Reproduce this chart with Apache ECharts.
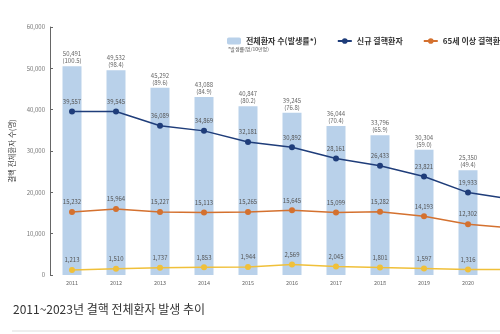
<!DOCTYPE html>
<html><head><meta charset="utf-8">
<script src="https://cdn.jsdelivr.net/npm/echarts@6/dist/echarts.min.js"></script>
<style>
html,body{margin:0;padding:0;overflow:hidden;width:500px;height:334px;background:#fff}
#c{width:560px;height:334px}
</style>
</head><body><div id="c"></div>
<script>
const years=['2011','2012','2013','2014','2015','2016','2017','2018','2019','2020','2021'];
const totals=[50491,49532,45292,43088,40847,39245,36044,33796,30304,25350,22904];
const rates=['100.5','98.4','89.6','84.9','80.2','76.8','70.4','65.9','59.0','49.4','44.6'];
const newCases=[39557,39545,36089,34869,32181,30892,28161,26433,23821,19933,18300];
const elderly=[15232,15964,15227,15113,15265,15645,15099,15282,14193,12302,11400];
const foreigners=[1213,1510,1737,1853,1944,2569,2045,1801,1597,1316,1350];
const names=['전체환자 수(발생률*)','신규 결핵환자','65세 이상 결핵환자','외국인 결핵환자'];

const FONT='"Noto Sans CJK KR","Noto Sans",sans-serif';
const fmt=v=>Number(v).toLocaleString('en-US');
const chart=echarts.init(document.getElementById('c'),null,{renderer:'canvas'});
const lineLabel={show:true,position:'top',distance:4,fontSize:6,color:'#555',fontFamily:FONT,formatter:p=>fmt(p.value)};
function lineSeries(name,data,color){
  return {name:name,type:'line',data:data,symbol:'circle',symbolSize:6,z:5,
    lineStyle:{color:color,width:1.5},itemStyle:{color:color},label:lineLabel};
}
chart.setOption({
  animation:false,
  textStyle:{fontFamily:FONT},
  title:{text:'2011~2023년 결핵 전체환자 발생 추이',left:8,top:298,
    textStyle:{fontSize:12,fontWeight:'normal',color:'#333',fontFamily:FONT}},
  legend:{data:names.slice(0,3),left:222,top:32,itemGap:20,itemWidth:14,itemHeight:7,
    textStyle:{fontSize:8,color:'#333',fontFamily:FONT,fontWeight:'bold'}},
  graphic:[
    {type:'text',left:228,top:47,style:{text:'*발생률(명/10만명)',fontSize:5,fill:'#555',fontFamily:FONT}},
    {type:'line',shape:{x1:12,y1:331,x2:560,y2:331},style:{stroke:'#dddddd',lineWidth:1}}
  ],
  grid:{left:50,top:27,width:484,bottom:59},
  xAxis:{type:'category',data:years,axisLine:{show:false},axisTick:{show:false},
    axisLabel:{fontSize:5.5,color:'#666',margin:5,fontFamily:FONT}},
  yAxis:{type:'value',min:0,max:60000,interval:10000,
    name:'결핵 전체환자 수(명)',nameLocation:'middle',nameGap:24,
    nameTextStyle:{fontSize:7.5,color:'#444',fontFamily:FONT},
    axisLine:{show:true,lineStyle:{color:'#666',width:1}},
    axisTick:{show:true,inside:true,length:3,lineStyle:{color:'#666'}},
    splitLine:{show:false},
    axisLabel:{fontSize:6,color:'#777',margin:5,formatter:v=>fmt(v),fontFamily:FONT}},
  series:[
    {name:names[0],type:'bar',data:totals,barWidth:19,itemStyle:{color:'#b9d1ea'},
     label:{show:true,position:'top',distance:2,fontSize:6,lineHeight:7,color:'#666',fontFamily:FONT,
       formatter:p=>fmt(p.value)+'\n('+rates[p.dataIndex]+')'}},
    lineSeries(names[1],newCases,'#1f3d7a'),
    lineSeries(names[2],elderly,'#d4712f'),
    lineSeries(names[3],foreigners,'#f0c03a')
  ]
});
</script></body></html>
